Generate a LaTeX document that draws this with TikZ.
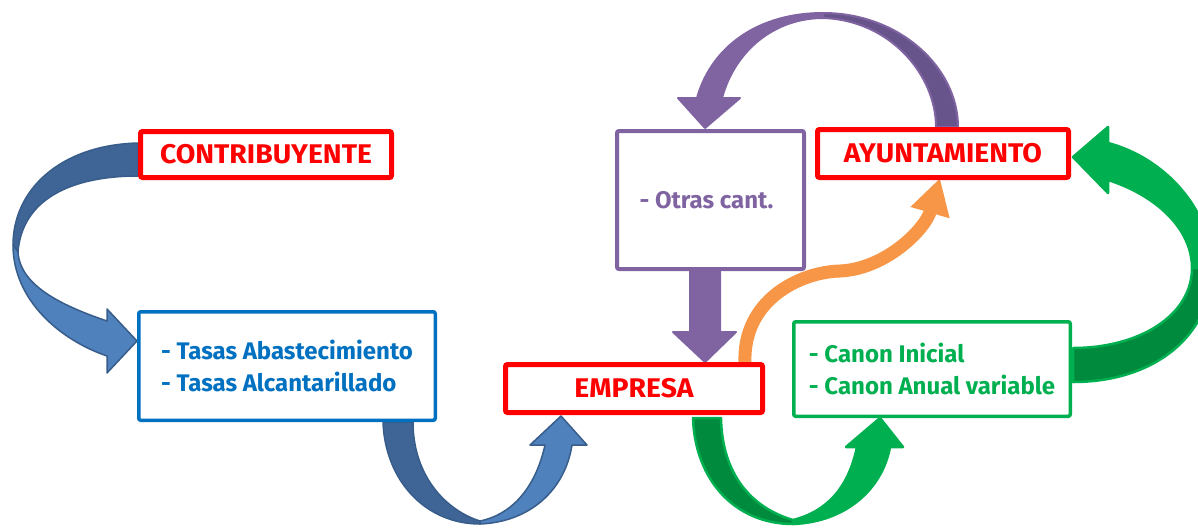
\documentclass[tikz,border=0pt]{standalone}
\usepackage{fontspec}
\setmainfont{Fira Sans}
\usetikzlibrary{arrows.meta,calc}
\definecolor{redbox}{HTML}{FF0000}
\definecolor{bluebox}{HTML}{0070C0}
\definecolor{purp}{HTML}{8064A2}
\definecolor{purpdark}{HTML}{66548A}
\definecolor{grn}{HTML}{00B050}
\definecolor{grndark}{HTML}{008A3E}
\definecolor{blu}{HTML}{4F81BD}
\definecolor{bludark}{HTML}{3F6597}
\definecolor{bluline}{HTML}{385D8A}
\definecolor{orng}{HTML}{F79646}
\begin{document}
\begin{tikzpicture}[x=1pt,y=-1pt,
  box/.style={draw, fill=white, rounded corners=2pt, inner sep=0pt,
    font=\fontsize{24}{32}\selectfont\bfseries},
  titlebox/.style={box, draw=redbox, text=redbox, line width=5pt,
    font=\fontsize{27}{32}\selectfont\bfseries\addfontfeature{FakeStretch=1.05}},
  blueribbon/.style={draw=bluline, line width=1.5pt, line join=round},
  greenribbon/.style={draw=grn, line width=2.5pt, line join=round},
  purpribbon/.style={draw=purp, line width=2pt, line join=round}]
\useasboundingbox (0,0) rectangle (1198,528);
\clip (0,0) rectangle (1198,528);

% ---------- ribbons / arrows (behind boxes) ----------
% blue left: CONTRIBUYENTE -> Tasas
\filldraw[blueribbon, fill=bludark] (138,143) .. controls (60,145) and (13,190) .. (13,245)
  -- (18,252) .. controls (22,200) and (70,176) .. (138,176) -- cycle;
\filldraw[blueribbon, fill=blu] (13,245) .. controls (13,300) and (60,340) .. (107,356)
  -- (107,373) -- (137,341) -- (107,309) -- (107,321)
  .. controls (60,305) and (20,285) .. (18,252) -- cycle;

% blue bottom: Tasas -> EMPRESA
\filldraw[blueribbon, fill=bludark] (383,422) .. controls (385,480) and (425,524) .. (480,524)
  -- (480,521) .. controls (445,510) and (413,475) .. (413,422) -- cycle;
\filldraw[blueribbon, fill=blu] (480,524) .. controls (530,522) and (565,490) .. (572,445)
  -- (587,445) -- (561,416) -- (530,445) -- (545,445)
  .. controls (535,490) and (510,515) .. (480,521) -- cycle;

% green bottom: EMPRESA -> Canon
\filldraw[greenribbon, fill=grndark] (693,418) .. controls (695,480) and (735,524) .. (793,524)
  -- (793,520) .. controls (752,508) and (722,475) .. (721,418) -- cycle;
\filldraw[greenribbon, fill=grn] (793,524) .. controls (845,522) and (882,490) .. (890,447)
  -- (903,447) -- (880,418) -- (846,447) -- (857,447)
  .. controls (848,490) and (825,512) .. (793,520) -- cycle;

% green right: Canon -> AYUNTAMIENTO
\filldraw[greenribbon, fill=grn] (1108,143) .. controls (1165,158) and (1212,210) .. (1212,268)
  -- (1192,268) .. controls (1192,228) and (1155,195) .. (1108,180)
  -- (1108,193) -- (1073,157) -- (1108,127) -- cycle;
\filldraw[greenribbon, fill=grndark] (1212,268) .. controls (1212,335) and (1155,382) .. (1073,382)
  -- (1073,348) .. controls (1140,348) and (1192,315) .. (1192,268) -- cycle;

% purple arc: AYUNTAMIENTO -> Otras
\filldraw[purpribbon, fill=purp] (697,98) .. controls (712,45) and (760,13) .. (823,13)
  -- (823,18) .. controls (775,18) and (735,50) .. (722,98)
  -- (740,98) -- (705,128) -- (678,98) -- cycle;
\filldraw[purpribbon, fill=purpdark] (823,13) .. controls (900,13) and (958,68) .. (958,127)
  -- (936,127) .. controls (936,75) and (890,20) .. (823,18) -- cycle;

% purple straight: Otras -> EMPRESA
\filldraw[purpribbon, fill=purp] (690,271) -- (690,332) -- (673,332) -- (705,362)
  -- (736,332) -- (720,332) -- (720,271) -- cycle;

% orange: EMPRESA -> AYUNTAMIENTO
\draw[orng, line width=13pt, -{Triangle[length=36pt,width=38pt]}]
  (745,364) .. controls (742,300) and (800,272) .. (840,271)
  .. controls (885,269) and (925,230) .. (940,178);

% ---------- boxes ----------
\node[titlebox, minimum width=251pt, minimum height=46pt] (contrib) at (266,154.5) {CONTRIBUYENTE};
\node[titlebox, minimum width=251pt, minimum height=48pt] (ayunt) at (943,153.5) {AYUNTAMIENTO};
\node[titlebox, minimum width=257pt, minimum height=48pt] (empresa) at (634,388.5) {EMPRESA};
\node[box, draw=bluebox, text=bluebox, line width=3.5pt, align=left,
  minimum width=296.5pt, minimum height=108.5pt] (tasas) at (287,366)
  {- Tasas Abastecimiento\\- Tasas Alcantarillado};
\node[box, draw=purp, text=purp, line width=4pt,
  minimum width=187pt, minimum height=138pt] (otras) at (710.5,200)
  {\hspace*{-8pt}- Otras cant.};
\node[box, draw=grn, text=grn, line width=3.5pt, align=left,
  minimum width=276.5pt, minimum height=94.5pt] (canon) at (932,369)
  {- Canon Inicial\\- Canon Anual variable};
\end{tikzpicture}
\end{document}
